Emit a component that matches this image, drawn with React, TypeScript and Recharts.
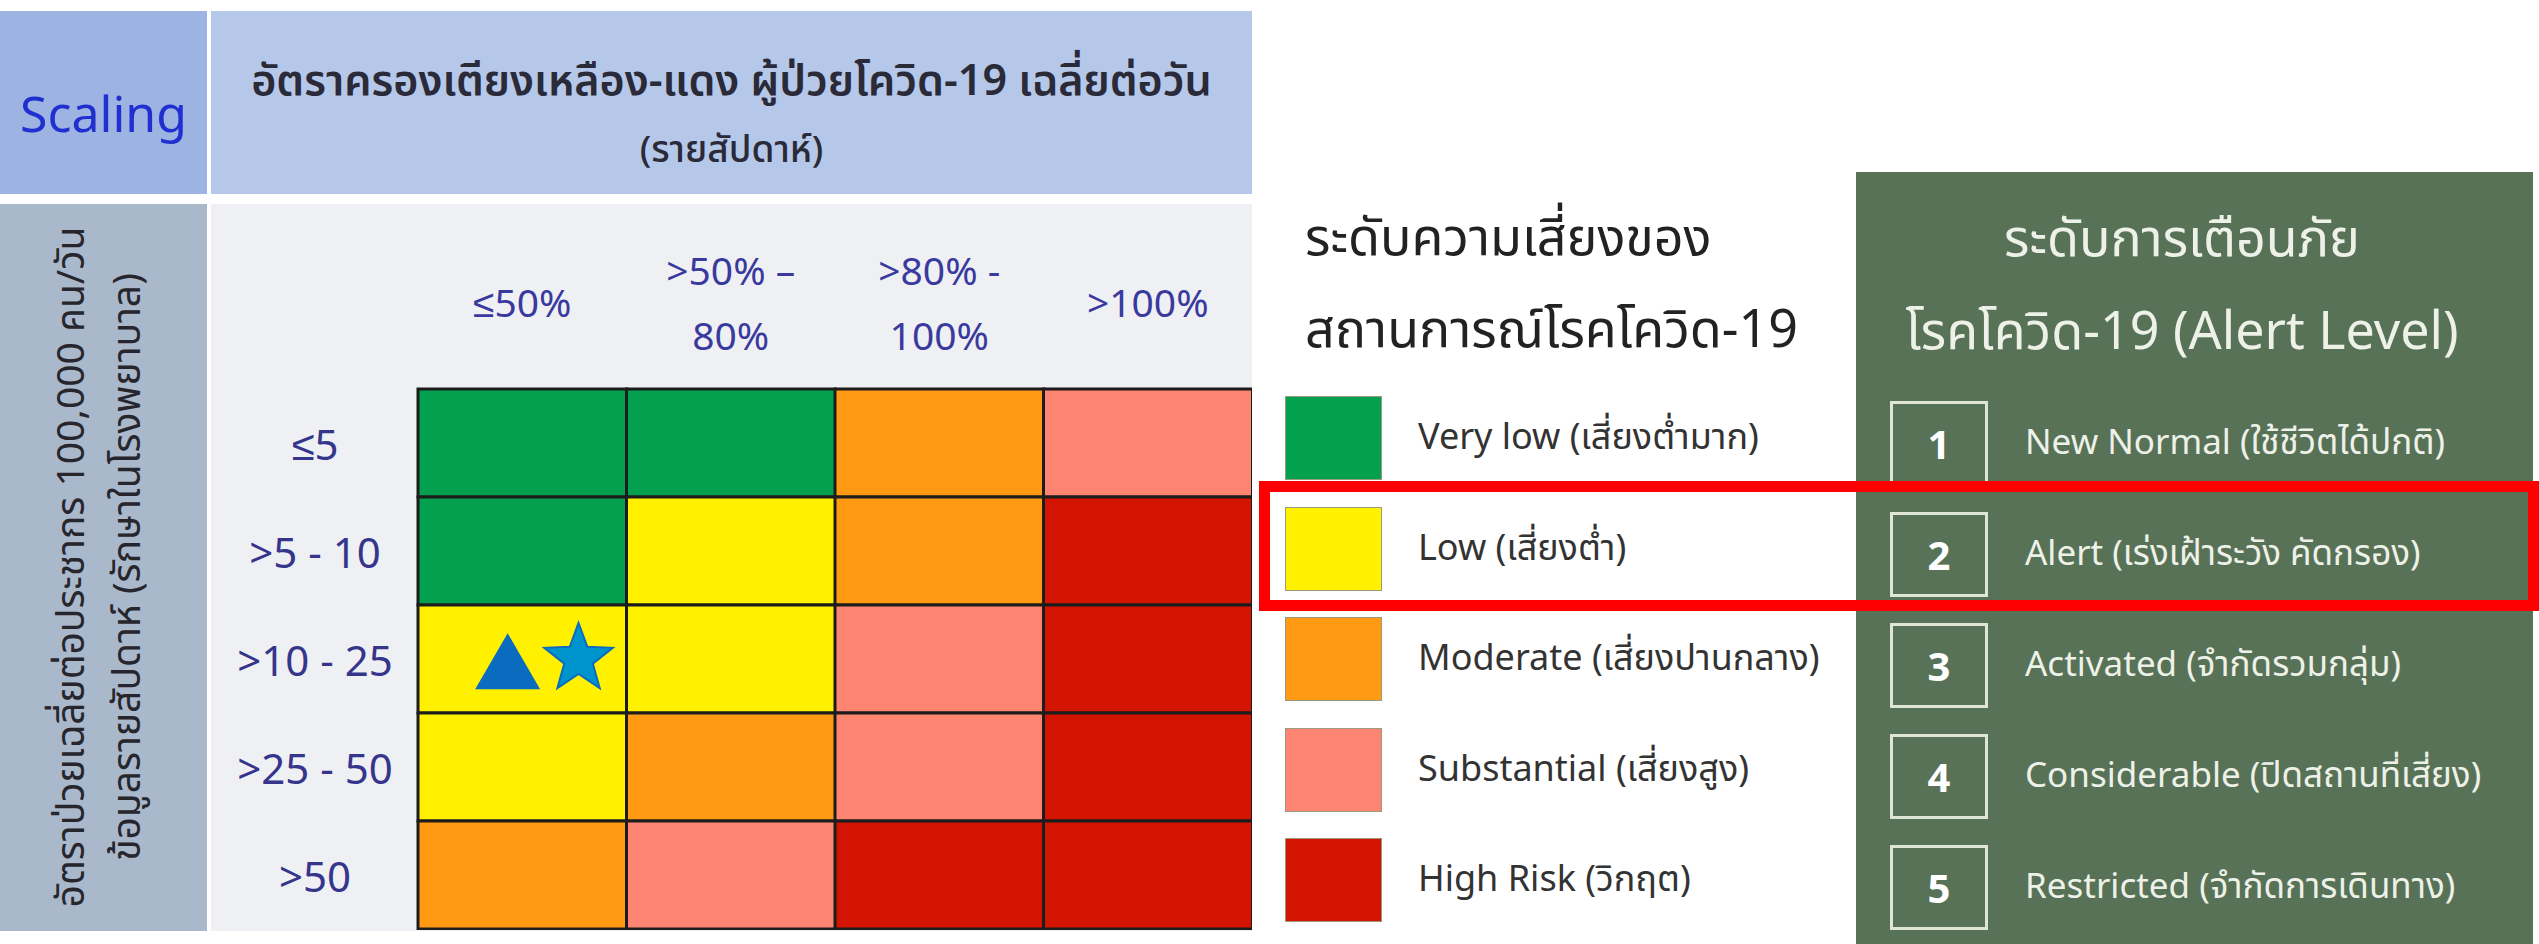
import React from 'react';
import { ComposedChart, Bar, Cell, Scatter, XAxis, YAxis } from 'recharts';

// column / row categories of the bed-occupancy x incidence matrix
const columnLabels = ['≤50%', '>50% –\n80%', '>80% -\n100%', '>100%'];
const rowLabels = ['≤5', '>5 - 10', '>10 - 25', '>25 - 50', '>50'];

// risk level index per cell, row by row (top to bottom)
const riskMatrix = [
  [0, 0, 2, 3],
  [0, 1, 2, 4],
  [1, 1, 3, 4],
  [1, 2, 3, 4],
  [2, 3, 4, 4],
];

const riskColors = ['#02a04f', '#fff100', '#ff9a12', '#ff8573', '#d21401'];
const riskLabels = [
  'Very low (เสี่ยงต่ำมาก)',
  'Low (เสี่ยงต่ำ)',
  'Moderate (เสี่ยงปานกลาง)',
  'Substantial (เสี่ยงสูง)',
  'High Risk (วิกฤต)',
];

const alertLevels = ['1', '2', '3', '4', '5'];
const alertLabels = [
  'New Normal (ใช้ชีวิตได้ปกติ)',
  'Alert (เร่งเฝ้าระวัง คัดกรอง)',
  'Activated (จำกัดรวมกลุ่ม)',
  'Considerable (ปิดสถานที่เสี่ยง)',
  'Restricted (จำกัดการเดินทาง)',
];

// markers sitting in the grid (x in column units, y in row units)
const triangleMarks = [{ x: 0.43, y: 2.52 }];
const starMarks = [{ x: 0.77, y: 2.5 }];

const FONT = "'Noto Sans', 'Noto Sans Thai', sans-serif";

// one entry per column, each row stacked with a height of 1
const gridData = columnLabels.map((col) => {
  const row: Record<string, any> = { col };
  rowLabels.forEach((_, i) => {
    row[`r${i}`] = 1;
  });
  return row;
});

const ColumnTick = ({ x, y, payload }: any) => {
  const lines = String(payload.value).split('\n');
  const lh = 65;
  const start = y - 88 - ((lines.length - 1) * lh) / 2;
  return (
    <text textAnchor="middle" dominantBaseline="central" fill="#3a3a9e" fontSize={39} fontFamily={FONT}>
      {lines.map((l, i) => (
        <tspan key={i} x={x} y={start + i * lh}>
          {l}
        </tspan>
      ))}
    </text>
  );
};

const RowTick = ({ x, y, payload }: any) => (
  <text x={x - 103} y={y} textAnchor="middle" dominantBaseline="central" fill="#35358c" fontSize={42} fontFamily={FONT}>
    {rowLabels[Math.floor(payload.value)]}
  </text>
);

const TriangleMark = ({ cx, cy }: any) => {
  const w = 65;
  const h = 56;
  return (
    <path
      d={`M${cx},${cy - h / 2} L${cx + w / 2},${cy + h / 2} L${cx - w / 2},${cy + h / 2} Z`}
      fill="#0a6cbf"
    />
  );
};

const StarMark = ({ cx, cy }: any) => {
  const R = 36;
  const r = 15;
  const pts: string[] = [];
  for (let i = 0; i < 10; i++) {
    const rad = i % 2 === 0 ? R : r;
    const a = -Math.PI / 2 + (i * Math.PI) / 5;
    pts.push(`${cx + rad * Math.cos(a)},${cy + rad * Math.sin(a)}`);
  }
  return <polygon points={pts.join(' ')} fill="#0094cc" stroke="#0a6cbf" strokeWidth={2} />;
};

const abs = (left: number, top: number, width: number, height: number, extra: React.CSSProperties = {}): React.CSSProperties => ({
  position: 'absolute',
  left,
  top,
  width,
  height,
  boxSizing: 'border-box',
  ...extra,
});

const centered = (left: number, top: number, fontSize: number, extra: React.CSSProperties = {}): React.CSSProperties => ({
  position: 'absolute',
  left,
  top,
  transform: 'translateY(-50%)',
  fontSize,
  whiteSpace: 'nowrap',
  ...extra,
});

export default function App() {
  return (
    <div style={{ position: 'absolute', left: 0, top: 0, width: 2539, height: 944, background: '#ffffff', fontFamily: FONT, overflow: 'hidden' }}>
      {/* header blocks */}
      <div style={abs(0, 11, 207, 183, { background: '#9db3e2' })}>
        <div style={{ position: 'absolute', left: 0, right: 0, top: 102, transform: 'translateY(-50%)', textAlign: 'center', color: '#2030d0', fontSize: 50 }}>
          Scaling
        </div>
      </div>
      <div style={abs(211, 11, 1041, 183, { background: '#b5c8ea', textAlign: 'center', color: '#2a2a38' })}>
        <div style={{ position: 'absolute', left: 0, right: 0, top: 70, transform: 'translateY(-50%)', fontSize: 43, fontWeight: 600, whiteSpace: 'nowrap' }}>
          อัตราครองเตียงเหลือง-แดง ผู้ป่วยโควิด-19 เฉลี่ยต่อวัน
        </div>
        <div style={{ position: 'absolute', left: 0, right: 0, top: 139, transform: 'translateY(-50%)', fontSize: 37, fontWeight: 500 }}>
          (รายสัปดาห์)
        </div>
      </div>

      {/* left axis title strip */}
      <div style={abs(0, 204, 207, 727, { background: '#aab8cc' })}>
        <div
          style={{
            position: 'absolute',
            left: 100 - 363,
            top: 363 - 60,
            width: 727,
            height: 120,
            transform: 'rotate(-90deg)',
            textAlign: 'center',
            color: '#26262c',
            fontSize: 39,
            lineHeight: '56px',
            whiteSpace: 'nowrap',
          }}
        >
          <div>อัตราป่วยเฉลี่ยต่อประชากร 100,000 คน/วัน</div>
          <div>ข้อมูลรายสัปดาห์ (รักษาในโรงพยาบาล)</div>
        </div>
      </div>

      {/* light background behind tick labels */}
      <div style={abs(211, 204, 1041, 727, { background: '#eff0f4' })} />

      <div style={{ position: 'absolute', left: 211, top: 204 }}>
        <ComposedChart
          width={1041}
          height={726}
          data={gridData}
          margin={{ top: 0, right: 0, bottom: 1, left: 0 }}
          barCategoryGap={0}
          barGap={0}
        >
          <XAxis
            dataKey="col"
            orientation="top"
            height={185}
            axisLine={false}
            tickLine={false}
            tickSize={0}
            tickMargin={0}
            interval={0}
            tick={<ColumnTick />}
          />
          <XAxis xAxisId="pos" type="number" dataKey="x" domain={[0, 4]} hide allowDataOverflow />
          <YAxis
            type="number"
            domain={[0, 5]}
            reversed
            ticks={[0.5, 1.5, 2.5, 3.5, 4.5]}
            width={207}
            axisLine={false}
            tickLine={false}
            tickSize={0}
            tickMargin={0}
            interval={0}
            tick={<RowTick />}
          />
          {rowLabels.map((_, ri) => (
            <Bar key={ri} dataKey={`r${ri}`} stackId="grid" stroke="#1c1c1c" strokeWidth={3} isAnimationActive={false}>
              {gridData.map((_, ci) => (
                <Cell key={ci} fill={riskColors[riskMatrix[ri][ci]]} />
              ))}
            </Bar>
          ))}
          <Scatter xAxisId="pos" data={triangleMarks} dataKey="y" shape={<TriangleMark />} isAnimationActive={false} />
          <Scatter xAxisId="pos" data={starMarks} dataKey="y" shape={<StarMark />} isAnimationActive={false} />
        </ComposedChart>
      </div>

      {/* risk legend */}
      <div style={centered(1305, 238, 52, { color: '#222' })}>ระดับความเสี่ยงของ</div>
      <div style={centered(1305, 330, 52, { color: '#222' })}>สถานการณ์โรคโควิด-19</div>
      {riskLabels.map((label, i) => (
        <React.Fragment key={label}>
          <div style={abs(1285, 396 + i * 110.5, 97, 84, { background: riskColors[i], border: '1px solid #9a9a80' })} />
          <div style={centered(1418, 438 + i * 110.5, 36, { color: '#333' })}>{label}</div>
        </React.Fragment>
      ))}

      {/* alert level panel */}
      <div style={abs(1856, 172, 677, 772, { background: '#587257', color: '#edf1e8' })}>
        <div style={centered(0, 67, 52, { width: 652, textAlign: 'center' })}>ระดับการเตือนภัย</div>
        <div style={centered(0, 160, 52, { width: 652, textAlign: 'center' })}>โรคโควิด-19 (Alert Level)</div>
        {alertLevels.map((lvl, i) => (
          <React.Fragment key={lvl}>
            <div
              style={abs(34, 229 + i * 111, 98, 85, {
                border: '3px solid #dfe6d6',
                display: 'flex',
                alignItems: 'center',
                justifyContent: 'center',
                fontSize: 40,
                fontWeight: 700,
                color: '#ffffff',
              })}
            >
              {lvl}
            </div>
            <div style={centered(169, 271 + i * 111, 35)}>{alertLabels[i]}</div>
          </React.Fragment>
        ))}
      </div>

      {/* highlight of the current level */}
      <div style={abs(1259, 481, 1280, 130, { border: '11px solid #ff0000' })} />
    </div>
  );
}
